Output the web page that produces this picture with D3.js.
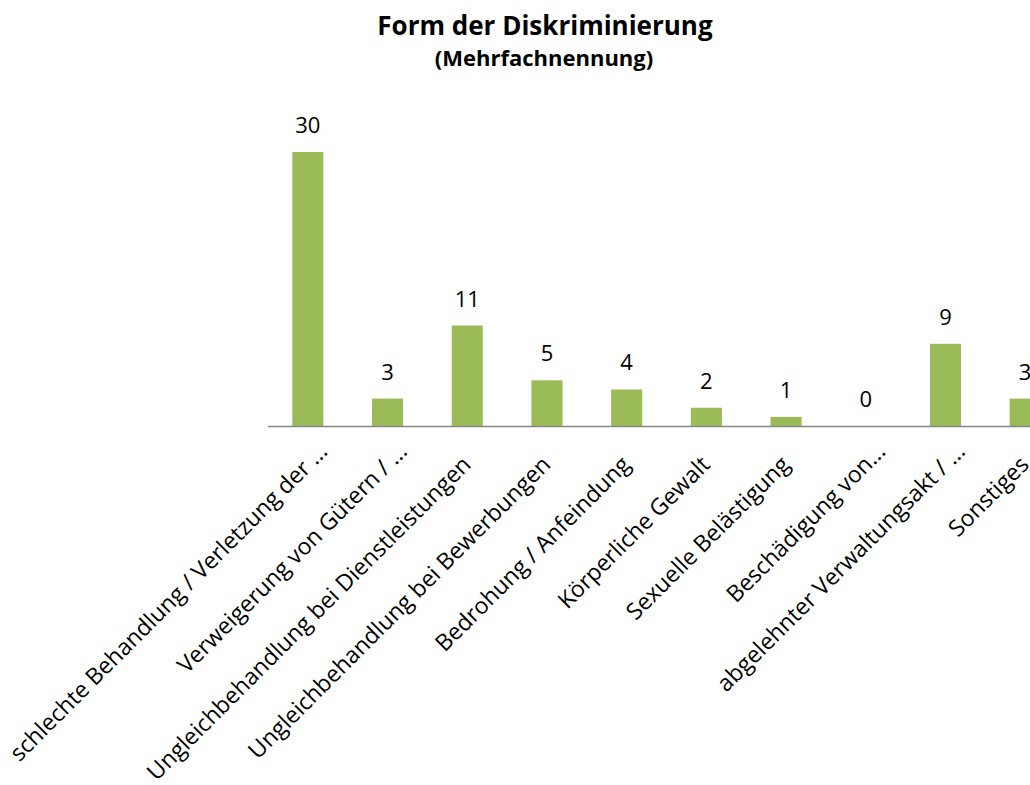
<!DOCTYPE html>
<html>
<head>
<meta charset="utf-8">
<script src="https://cdn.jsdelivr.net/npm/d3@7"></script>
<style>
  body { margin: 0; background: #fff; }
  text { font-family: "Open Sans", Lato, sans-serif; fill: #000; }
</style>
</head>
<body>
<div id="viz"></div>
<script>
    // data
    var categories = [
        "schlechte Behandlung / Verletzung der ...",
        "Verweigerung von Gütern / ...",
        "Ungleichbehandlung bei Dienstleistungen",
        "Ungleichbehandlung bei Bewerbungen",
        "Bedrohung / Anfeindung",
        "Körperliche Gewalt",
        "Sexuelle Belästigung",
        "Beschädigung von...",
        "abgelehnter Verwaltungsakt / ...",
        "Sonstiges"
    ];
    var values = [30, 3, 11, 5, 4, 2, 1, 0, 9, 3];
    var title = "Form der Diskriminierung";
    var subtitle = "(Mehrfachnennung)";

    var W = 1030, H = 785;
    var plotLeft = 268, plotRight = 1065; // plot runs past the right edge like the original
    var plotBase = 426, plotTop = 152;

    var svg = d3.select("#viz")
        .append("svg")
        .attr("width", W)
        .attr("height", H);

    var x = d3.scaleBand()
        .domain(categories)
        .range([plotLeft, plotRight])
        .paddingInner(0.61)
        .paddingOuter(0.305);

    var y = d3.scaleLinear()
        .domain([0, 30])
        .range([plotBase, plotTop]);

    svg.append("text")
        .attr("x", 545)
        .attr("y", 35)
        .attr("text-anchor", "middle")
        .style("font-size", "26px")
        .style("font-weight", "bold")
        .text(title);

    svg.append("text")
        .attr("x", 544)
        .attr("y", 66)
        .attr("text-anchor", "middle")
        .style("font-size", "22px")
        .style("font-weight", "bold")
        .text(subtitle);

    svg.selectAll("rect.bar")
        .data(values)
        .enter().append("rect")
        .attr("class", "bar")
        .attr("x", function(d, i) { return x(categories[i]); })
        .attr("y", function(d) { return y(d); })
        .attr("width", x.bandwidth())
        .attr("height", function(d) { return plotBase - y(d); })
        .attr("fill", "#9bbb59");

    svg.selectAll("text.val")
        .data(values)
        .enter().append("text")
        .attr("class", "val")
        .attr("x", function(d, i) { return x(categories[i]) + x.bandwidth() / 2; })
        .attr("y", function(d) { return y(d) - 19; })
        .attr("text-anchor", "middle")
        .style("font-size", "22px")
        .text(function(d) { return d; });

    // baseline
    svg.append("line")
        .attr("x1", plotLeft)
        .attr("x2", plotRight)
        .attr("y1", plotBase + 0.5)
        .attr("y2", plotBase + 0.5)
        .style("stroke", "#868686")
        .style("stroke-width", 1.5);

    // truncated labels (ending in "...") sit a bit higher, like excel does it
    svg.selectAll("text.cat")
        .data(categories)
        .enter().append("text")
        .attr("class", "cat")
        .attr("text-anchor", "end")
        .style("font-size", "23px")
        .attr("transform", function(d) {
            var c = x(d) + x.bandwidth() / 2;
            var cut = /\.\.\.$/.test(d);
            var tx = cut ? c + 21 : c + 5;
            var ty = cut ? plotBase + 27 : plotBase + 40;
            return "translate(" + tx + "," + ty + ")rotate(-45)";
        })
        .text(function(d) { return d; });
</script>
</body>
</html>
